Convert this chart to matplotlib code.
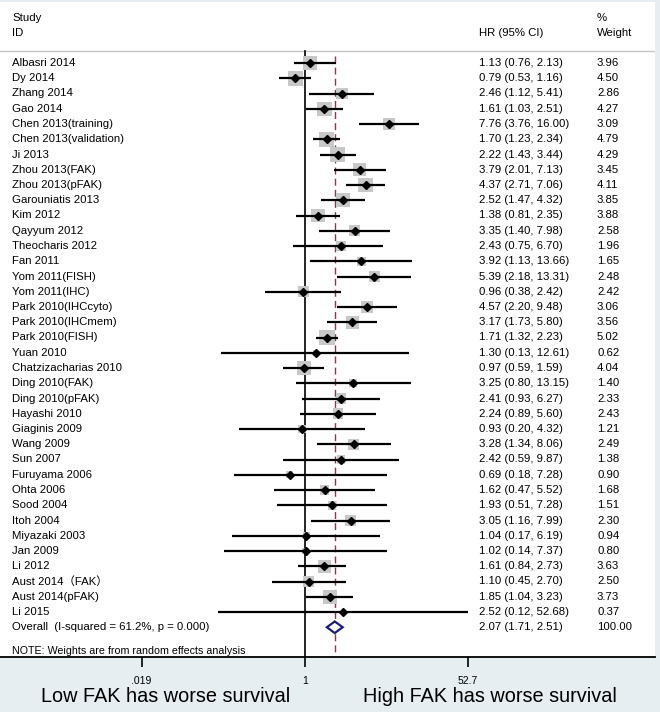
import numpy as np
import matplotlib
matplotlib.use("Agg")
import matplotlib.pyplot as plt

plt.rcParams['font.family'] = ['Liberation Sans', 'Noto Sans CJK SC']

studies = ["Albasri 2014", "Dy 2014", "Zhang 2014", "Gao 2014", "Chen 2013(training)",
           "Chen 2013(validation)", "Ji 2013", "Zhou 2013(FAK)", "Zhou 2013(pFAK)",
           "Garouniatis 2013", "Kim 2012", "Qayyum 2012", "Theocharis 2012", "Fan 2011",
           "Yom 2011(FISH)", "Yom 2011(IHC)", "Park 2010(IHCcyto)", "Park 2010(IHCmem)",
           "Park 2010(FISH)", "Yuan 2010", "Chatzizacharias 2010", "Ding 2010(FAK)",
           "Ding 2010(pFAK)", "Hayashi 2010", "Giaginis 2009", "Wang 2009", "Sun 2007",
           "Furuyama 2006", "Ohta 2006", "Sood 2004", "Itoh 2004", "Miyazaki 2003",
           "Jan 2009", "Li 2012", "Aust 2014（FAK）", "Aust 2014(pFAK)", "Li 2015"]
hr = [1.13, 0.79, 2.46, 1.61, 7.76, 1.70, 2.22, 3.79, 4.37, 2.52, 1.38, 3.35, 2.43, 3.92,
      5.39, 0.96, 4.57, 3.17, 1.71, 1.30, 0.97, 3.25, 2.41, 2.24, 0.93, 3.28, 2.42, 0.69,
      1.62, 1.93, 3.05, 1.04, 1.02, 1.61, 1.10, 1.85, 2.52]
lo = [0.76, 0.53, 1.12, 1.03, 3.76, 1.23, 1.43, 2.01, 2.71, 1.47, 0.81, 1.40, 0.75, 1.13,
      2.18, 0.38, 2.20, 1.73, 1.32, 0.13, 0.59, 0.80, 0.93, 0.89, 0.20, 1.34, 0.59, 0.18,
      0.47, 0.51, 1.16, 0.17, 0.14, 0.84, 0.45, 1.04, 0.12]
hi = [2.13, 1.16, 5.41, 2.51, 16.00, 2.34, 3.44, 7.13, 7.06, 4.32, 2.35, 7.98, 6.70, 13.66,
      13.31, 2.42, 9.48, 5.80, 2.23, 12.61, 1.59, 13.15, 6.27, 5.60, 4.32, 8.06, 9.87, 7.28,
      5.52, 7.28, 7.99, 6.19, 7.37, 2.73, 2.70, 3.23, 52.68]
weight = [3.96, 4.50, 2.86, 4.27, 3.09, 4.79, 4.29, 3.45, 4.11, 3.85, 3.88, 2.58, 1.96, 1.65,
          2.48, 2.42, 3.06, 3.56, 5.02, 0.62, 4.04, 1.40, 2.33, 2.43, 1.21, 2.49, 1.38, 0.90,
          1.68, 1.51, 2.30, 0.94, 0.80, 3.63, 2.50, 3.73, 0.37]

overall_label = "Overall  (I-squared = 61.2%, p = 0.000)"
overall_hr, overall_lo, overall_hi = 2.07, 1.71, 2.51
tick_vals = [0.019, 1, 52.7]
tick_labels = [".019", "1", "52.7"]

W, H = 660, 712
fig = plt.figure(figsize=(W / 100, H / 100), dpi=100, facecolor="#e6eef2")

# main panel: from pixel x 0..655, y 2..657
ax = fig.add_axes([0, (H - 657) / H, 655 / W, 655 / H])
ax.set_facecolor("white")
ax.set_xscale("log")
px_per_ln = 163.2 / np.log(52.7)
x_one = 304.8
ax.set_xlim(np.exp(-x_one / px_per_ln), np.exp((655 - x_one) / px_per_ln))
row0, step = 63, 15.25
ax.set_ylim((657 - row0) / step, (2 - row0) / step)

for s in ["top", "left", "right"]:
    ax.spines[s].set_visible(False)
ax.spines["bottom"].set_linewidth(1.3)
ax.set_yticks([])
ax.set_xticks(tick_vals)
ax.set_xticklabels(tick_labels)
ax.minorticks_off()
ax.tick_params(axis="x", direction="out", length=7, width=1.2, labelsize=7.5, pad=6.5)

n = len(studies)
y = np.arange(n)
ybot = (657 - row0) / step

# header line
ax.axhline((51 - row0) / step, color="#c4c4c4", lw=1)
# null line and overall line
ax.plot([1, 1], [(51 - row0) / step, ybot], color="black", lw=1.2, zorder=2)
ax.plot([overall_hr, overall_hr], [(56 - row0) / step, ybot], color="#a0303a", lw=1,
        dashes=(5, 3), zorder=2)

# boxes, CIs and point estimates
ax.scatter(hr, y, s=np.array(weight) * 25.4, marker="s", color="#c8c8c8", zorder=3,
           linewidths=0)
ax.hlines(y, lo, hi, color="black", lw=1.6, zorder=4)
ax.plot(hr, y, "D", color="black", markersize=4.4, zorder=5)

# overall diamond
yo = n
dh = 0.38
ax.fill([overall_lo, overall_hr, overall_hi, overall_hr, overall_lo],
        [yo, yo - dh, yo, yo + dh, yo], facecolor="white", edgecolor="#1c1c78", lw=1.6,
        zorder=5)

tr = ax.get_yaxis_transform()
fs = 8.2
xl, xh, xw = 12 / 655, 479 / 655, 597 / 655
ax.text(xl, (18 - row0) / step, "Study", transform=tr, fontsize=fs, va="center")
ax.text(xl, (33 - row0) / step, "ID", transform=tr, fontsize=fs, va="center")
ax.text(xh, (33 - row0) / step, "HR (95% CI)", transform=tr, fontsize=fs, va="center")
ax.text(xw, (18 - row0) / step, "%", transform=tr, fontsize=fs, va="center")
ax.text(xw, (33 - row0) / step, "Weight", transform=tr, fontsize=fs, va="center")

for i in range(n):
    ax.text(xl, i, studies[i], transform=tr, fontsize=fs, va="center")
    ax.text(xh, i, "{:.2f} ({:.2f}, {:.2f})".format(hr[i], lo[i], hi[i]), transform=tr,
            fontsize=fs, va="center")
    ax.text(xw, i, "{:.2f}".format(weight[i]), transform=tr, fontsize=fs, va="center")

ax.text(xl, yo, overall_label, transform=tr, fontsize=fs, va="center")
ax.text(xh, yo, "{:.2f} ({:.2f}, {:.2f})".format(overall_hr, overall_lo, overall_hi),
        transform=tr, fontsize=fs, va="center")
ax.text(xw, yo, "100.00", transform=tr, fontsize=fs, va="center")
ax.text(xl, (651 - row0) / step, "NOTE: Weights are from random effects analysis",
        transform=tr, fontsize=7.7, va="center")

fig.text(166 / W, 1 - 697 / H, "Low FAK has worse survival", fontsize=14.3,
         ha="center", va="center")
fig.text(490 / W, 1 - 697 / H, "High FAK has worse survival", fontsize=14.3,
         ha="center", va="center")

fig.savefig("out.png", dpi=100, facecolor=fig.get_facecolor())
